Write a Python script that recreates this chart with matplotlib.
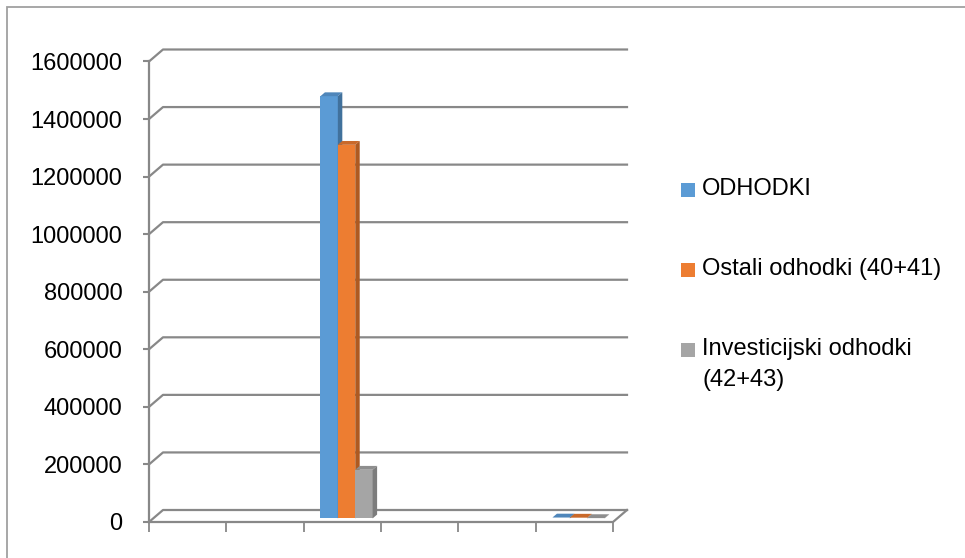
import matplotlib
matplotlib.use("Agg")
import matplotlib.pyplot as plt
from matplotlib.patches import Polygon, Rectangle
from matplotlib.lines import Line2D

# ---- data ----
categories = ["", "", "", "", "", ""]
series_names = ["ODHODKI", "Ostali odhodki (40+41)", "Investicijski odhodki\n(42+43)"]
odhodki = [0, 0, 1467000, 0, 0, 3000]
ostali = [0, 0, 1298000, 0, 0, 2500]
investicijski = [0, 0, 169000, 0, 0, 1000]
yticks = [0, 200000, 400000, 600000, 800000, 1000000, 1200000, 1400000, 1600000]

series = [odhodki, ostali, investicijski]
front_cols = ["#5B9BD5", "#ED7D31", "#A5A5A5"]
side_cols = ["#41719C", "#AE5A21", "#7C7C7C"]
top_cols = ["#4F86BA", "#C9692A", "#8E8E8E"]

W, H = 965, 558
fig = plt.figure(figsize=(W / 100, H / 100), dpi=100)
fig.patch.set_facecolor("white")

# outer chart border (only top/left visible)
fig.patches.append(Rectangle((7 / W, -0.1), 1.2, 1 - 7.5 / H + 0.1, transform=fig.transFigure,
                             fill=False, edgecolor="#a0a0a0", linewidth=1.3))

ax = fig.add_axes([149 / W, 36 / H, 464 / W, 460.5 / H])
n = len(categories)
ymax = yticks[-1]
ax.set_xlim(0, n)
ax.set_ylim(0, ymax)
ax.set_facecolor("none")

grid_col = "#888888"
px_x = 464 / n          # pixels per category
px_y = 460.5 / ymax     # pixels per value unit
ddx = 14 / px_x         # depth offset in data units
ddy = 12 / px_y

# back wall gridlines with slanted left part
for v in yticks:
    ax.add_line(Line2D([0, ddx, n + ddx], [v, v + ddy, v + ddy], color=grid_col,
                       linewidth=1.6, clip_on=False, zorder=1))
# floor front and right edge
ax.add_line(Line2D([0, n, n + ddx], [0, 0, ddy], color=grid_col, linewidth=1.6,
                   clip_on=False, zorder=1))

for s in ["top", "right", "bottom"]:
    ax.spines[s].set_visible(False)
ax.spines["left"].set_color(grid_col)
ax.spines["left"].set_linewidth(1.6)

ax.set_yticks(yticks)
ax.set_yticklabels([str(v) for v in yticks])
ax.tick_params(axis="y", length=4, width=1.5, color=grid_col, pad=15,
               labelsize=17, labelcolor="black")
ax.set_xticks(range(n + 1))
ax.set_xticklabels([""] * (n + 1))
ax.tick_params(axis="x", length=7, width=1.3, color=grid_col)
for lab in ax.get_yticklabels():
    lab.set_fontfamily("Liberation Sans")

# 3D-looking bars
w = 0.225
f0, f1 = 0.3, 0.62
for c in range(n):
    for i, vals in enumerate(series):
        v = vals[c]
        if v <= 0:
            continue
        x0 = c + 0.5 + (i - 1.5) * w + f0 * ddx
        y0 = f0 * ddy
        dx = (f1 - f0) * ddx
        dy = (f1 - f0) * ddy
        ax.add_patch(Rectangle((x0, y0), w, v, facecolor=front_cols[i], edgecolor="none",
                               clip_on=False, zorder=3))
        ax.add_patch(Polygon([(x0, y0 + v), (x0 + w, y0 + v), (x0 + w + dx, y0 + v + dy),
                              (x0 + dx, y0 + v + dy)], closed=True, facecolor=top_cols[i],
                             edgecolor="none", clip_on=False, zorder=3))
        ax.add_patch(Polygon([(x0 + w, y0), (x0 + w + dx, y0 + dy), (x0 + w + dx, y0 + v + dy),
                              (x0 + w, y0 + v)], closed=True, facecolor=side_cols[i],
                             edgecolor="none", clip_on=False, zorder=3))

# legend
leg_y = [190, 270, 350]
for i, name in enumerate(series_names):
    yc = leg_y[i]
    fig.patches.append(Rectangle((681 / W, 1 - (yc + 7) / H), 14 / W, 14 / H,
                                 transform=fig.transFigure, facecolor=front_cols[i],
                                 edgecolor="none"))
    fig.text(702 / W, 1 - (yc - 12) / H, name, fontsize=17, family="Liberation Sans",
             va="top", ha="left", linespacing=1.55)

fig.savefig("out.png", dpi=100)
